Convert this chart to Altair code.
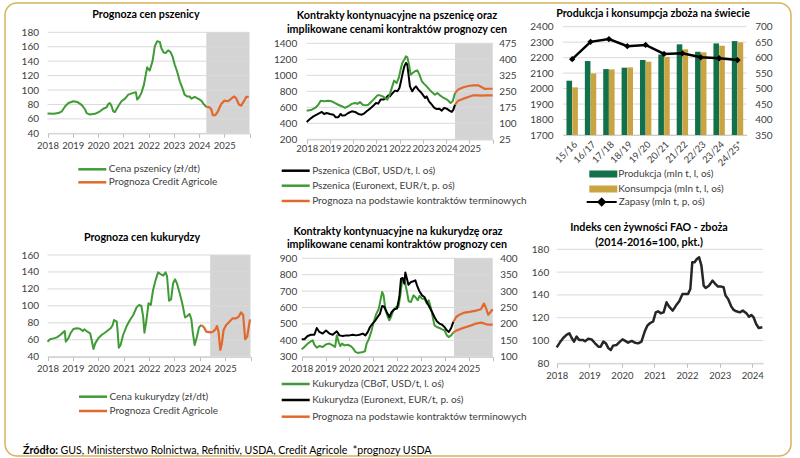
import altair as alt
import pandas as pd

# ---------------- data ----------------
year_ticks = [2018, 2019, 2020, 2021, 2022, 2023, 2024, 2025, 2026]
fao_ticks = [2018, 2019, 2020, 2021, 2022, 2023, 2024]

# Panel 1: wheat price forecast (zl/dt)
wheat_t = [2018.0, 2018.24, 2018.43, 2018.57, 2018.7, 2018.83, 2019.03, 2019.18, 2019.36, 2019.49, 2019.55, 2019.68,
           2019.88, 2020.08, 2020.21, 2020.34, 2020.41, 2020.47, 2020.54, 2020.6, 2020.67, 2020.8, 2020.93, 2021.07,
           2021.2, 2021.39, 2021.5, 2021.55, 2021.63, 2021.72, 2021.82, 2021.89, 2021.95, 2022.05, 2022.16, 2022.25,
           2022.34, 2022.45, 2022.51, 2022.6, 2022.68, 2022.78, 2022.87, 2022.95, 2023.04, 2023.13, 2023.24, 2023.34,
           2023.43, 2023.53, 2023.63, 2023.7, 2023.83, 2023.96, 2024.09, 2024.18, 2024.29]
wheat_v = [67.3, 67, 68, 70.5, 77.5, 82, 84.4, 83.5, 79, 73, 68, 66, 67, 70.5, 74, 76, 80.7, 82, 77.5, 70.5, 69.6,
           77.5, 84.4, 88, 93.6, 96, 97, 86.7, 90, 96, 107.5, 121, 131.5, 127, 140, 160.6, 167.5, 166.6, 158, 152,
           151.4, 155, 152.7, 146.7, 135, 126, 112, 103, 93.6, 91, 91, 88, 90.4, 88, 85.3, 80.7, 76.5]
wheat_fc_t = [2024.29, 2024.42, 2024.49, 2024.55, 2024.64, 2024.75, 2024.88, 2025.01, 2025.14, 2025.28, 2025.38,
              2025.47, 2025.58, 2025.67, 2025.76, 2025.87, 2025.97]
wheat_fc_v = [76.5, 76, 73, 65, 65, 70.5, 80.7, 85.3, 84.4, 88, 91, 88.8, 80, 78.4, 83.5, 90.4, 90.4]
wheat_shade = [2024.29, 2026]

# Panel 2: wheat continuous contracts
cbot_w_t = [2018.0, 2018.14, 2018.29, 2018.43, 2018.57, 2018.65, 2018.75, 2018.86, 2019.0, 2019.15, 2019.25, 2019.36,
            2019.46, 2019.53, 2019.65, 2019.79, 2019.94, 2020.08, 2020.22, 2020.37, 2020.48, 2020.58, 2020.72, 2020.84,
            2020.98, 2021.08, 2021.18, 2021.3, 2021.41, 2021.51, 2021.58, 2021.7, 2021.8, 2021.9, 2021.99, 2022.06,
            2022.13, 2022.2, 2022.27, 2022.33, 2022.37, 2022.44, 2022.54, 2022.63, 2022.7, 2022.8, 2022.9, 2022.99,
            2023.09, 2023.16, 2023.26, 2023.38, 2023.49, 2023.59, 2023.71, 2023.81, 2023.91, 2024.02, 2024.14,
            2024.24, 2024.31, 2024.38]
cbot_w_v = [417, 454, 487, 508, 529, 542, 517, 529, 517, 508, 475, 475, 517, 496, 500, 529, 550, 542, 517, 508, 525,
            550, 583, 612, 654, 646, 696, 696, 717, 750, 737, 779, 808, 800, 842, 933, 1029, 1112, 1154, 1133, 1029,
            862, 800, 842, 862, 821, 792, 758, 717, 737, 675, 633, 592, 579, 583, 558, 592, 583, 558, 542, 571, 633]
eur_w_t = [2018.0, 2018.22, 2018.36, 2018.5, 2018.6, 2018.75, 2018.93, 2019.08, 2019.22, 2019.36, 2019.51, 2019.65,
           2019.79, 2019.94, 2020.08, 2020.18, 2020.29, 2020.41, 2020.54, 2020.65, 2020.8, 2020.94, 2021.04, 2021.15,
           2021.27, 2021.37, 2021.47, 2021.56, 2021.66, 2021.76, 2021.87, 2021.96, 2022.04, 2022.11, 2022.2, 2022.27,
           2022.33, 2022.4, 2022.47, 2022.56, 2022.66, 2022.76, 2022.85, 2022.95, 2023.05, 2023.16, 2023.28, 2023.38,
           2023.52, 2023.62, 2023.73, 2023.85, 2023.96, 2024.09, 2024.19, 2024.28, 2024.38]
eur_w_v = [159, 164, 172, 187, 206, 203, 206, 203, 195, 187, 180, 172, 180, 191, 195, 191, 200, 187, 184, 187, 203,
           219, 231, 231, 226, 219, 211, 231, 266, 300, 289, 313, 352, 383, 399, 414, 409, 375, 328, 336, 344, 348,
           328, 297, 285, 273, 258, 247, 234, 242, 231, 222, 216, 206, 195, 203, 242]
fc_eur_w_t = [2024.38, 2024.52, 2024.74, 2024.95, 2025.17, 2025.38, 2025.53, 2025.67, 2025.81, 2026.0]
fc_eur_w_v = [242, 258, 269, 275, 278, 278, 269, 261, 262, 262]
fc_cbot_w_t = [2024.38, 2024.52, 2024.74, 2024.95, 2025.17, 2025.38, 2025.53, 2025.74, 2026.0]
fc_cbot_w_v = [633, 683, 708, 729, 750, 750, 746, 750, 750]
wheat_fut_shade = [2024.38, 2026]

# Panel 3: world grain production / consumption / stocks
seasons = ["15/16", "16/17", "17/18", "18/19", "19/20", "20/21", "21/22", "22/23", "23/24", "24/25*"]
production = [2051, 2178, 2126, 2135, 2185, 2220, 2286, 2238, 2292, 2307]
consumption = [2008, 2098, 2124, 2137, 2174, 2205, 2254, 2234, 2277, 2299]
stocks = [595, 651, 660, 637, 641, 612, 614, 601, 598, 592]

# Panel 4: corn price forecast (zl/dt)
corn_t = [2018.0, 2018.1, 2018.24, 2018.37, 2018.5, 2018.63, 2018.68, 2018.72, 2018.82, 2018.92, 2019.02, 2019.15,
          2019.28, 2019.39, 2019.45, 2019.57, 2019.68, 2019.74, 2019.81, 2019.88, 2020.0, 2020.13, 2020.26, 2020.4,
          2020.49, 2020.57, 2020.62, 2020.73, 2020.77, 2020.81, 2020.88, 2020.98, 2021.12, 2021.25, 2021.38, 2021.51,
          2021.61, 2021.7, 2021.77, 2021.82, 2021.9, 2021.98, 2022.07, 2022.16, 2022.27, 2022.36, 2022.45, 2022.56,
          2022.65, 2022.71, 2022.79, 2022.87, 2022.95, 2023.03, 2023.1, 2023.21, 2023.31, 2023.42, 2023.51, 2023.6,
          2023.67, 2023.73, 2023.8, 2023.89, 2023.97, 2024.06]
corn_v = [57.7, 60.5, 61.6, 62.8, 65.6, 69, 70.3, 57.7, 61.6, 68.3, 72.7, 73.5, 73, 70.3, 72.3, 69.5, 67.6, 59.7, 49,
          55.7, 61.6, 65.6, 68.3, 71.5, 73.5, 77.4, 83.3, 81.3, 67.6, 50.6, 53.8, 65.6, 76.2, 83.3, 89.2, 98.2, 101,
          99.8, 87.2, 68.3, 83.3, 103, 101, 118.7, 131.3, 139.5, 137.6, 135.6, 139.5, 135.2, 106, 107.7, 126.6, 131.3,
          126.6, 114.8, 103, 86.4, 88, 90.4, 84, 67.6, 53.8, 63.6, 74.6, 77.4]
corn_fc_t = [2024.06, 2024.17, 2024.26, 2024.41, 2024.52, 2024.62, 2024.68, 2024.74, 2024.81, 2024.87, 2024.94,
             2025.04, 2025.17, 2025.3, 2025.43, 2025.53, 2025.63, 2025.71, 2025.79, 2025.87, 2025.98]
corn_fc_v = [77.4, 74.6, 69.5, 68.7, 69.5, 72.3, 76.2, 69.5, 47.9, 55.7, 71.5, 77.4, 81.3, 85.3, 85.3, 87.2, 92.3,
             89.2, 60.5, 63.6, 84]
corn_shade = [2024.41, 2026]

# Panel 5: corn continuous contracts
cbot_c_t = [2018.0, 2018.11, 2018.25, 2018.39, 2018.46, 2018.53, 2018.63, 2018.74, 2018.88, 2019.02, 2019.16, 2019.3,
            2019.4, 2019.47, 2019.54, 2019.61, 2019.69, 2019.79, 2019.93, 2020.07, 2020.16, 2020.25, 2020.35, 2020.44,
            2020.56, 2020.65, 2020.72, 2020.81, 2020.91, 2021.0, 2021.11, 2021.23, 2021.3, 2021.37, 2021.43, 2021.51,
            2021.61, 2021.67, 2021.74, 2021.84, 2021.95, 2022.05, 2022.13, 2022.2, 2022.27, 2022.34, 2022.41, 2022.48,
            2022.58, 2022.68, 2022.76, 2022.86, 2022.93, 2023.04, 2023.14, 2023.24, 2023.32, 2023.42, 2023.49,
            2023.56, 2023.66, 2023.77, 2023.88, 2023.98, 2024.08, 2024.16, 2024.26, 2024.35]
cbot_c_v = [345, 359, 380, 394, 400, 373, 355, 365, 359, 375, 380, 369, 359, 430, 394, 365, 380, 369, 373, 363, 349,
            329, 323, 325, 329, 333, 380, 406, 451, 502, 556, 593, 644, 695, 674, 583, 542, 522, 542, 583, 603, 603,
            674, 756, 772, 745, 695, 638, 634, 674, 664, 644, 670, 654, 654, 624, 644, 593, 542, 491, 481, 475, 467,
            461, 430, 420, 430, 447]
eur_c_t = [2018.0, 2018.11, 2018.25, 2018.39, 2018.53, 2018.63, 2018.74, 2018.88, 2019.02, 2019.16, 2019.3, 2019.47,
           2019.58, 2019.72, 2019.86, 2020.0, 2020.14, 2020.28, 2020.42, 2020.56, 2020.67, 2020.77, 2020.86, 2020.97,
           2021.09, 2021.18, 2021.28, 2021.37, 2021.46, 2021.56, 2021.67, 2021.77, 2021.88, 2021.99, 2022.09, 2022.16,
           2022.23, 2022.3, 2022.34, 2022.4, 2022.47, 2022.58, 2022.68, 2022.76, 2022.83, 2022.93, 2023.04, 2023.14,
           2023.24, 2023.35, 2023.46, 2023.56, 2023.66, 2023.77, 2023.88, 2023.98, 2024.08, 2024.16, 2024.26, 2024.35]
eur_c_v = [153, 153, 163, 167, 167, 187.5, 175.5, 170.5, 179.5, 170.5, 167, 177.5, 165, 163, 165, 165, 167, 165, 167,
           170.5, 165, 175.5, 190.5, 201, 211, 221, 231.5, 254.5, 251.5, 236.5, 221, 236.5, 244.5, 246.5, 282, 338,
           340, 322.5, 356.5, 340, 319.5, 328, 330, 333, 317.5, 299.5, 287, 282, 267, 251.5, 236.5, 221, 208, 201,
           197.5, 190.5, 180.5, 175.5, 187.5, 206]
fc_eur_c_t = [2024.35, 2024.47, 2024.61, 2024.82, 2025.03, 2025.3, 2025.51, 2025.63, 2025.72, 2025.81, 2025.91, 2026.0]
fc_eur_c_v = [206, 221, 228, 234.5, 236.5, 240.5, 244.5, 262, 248.5, 228, 236.5, 244.5]
fc_cbot_c_t = [2024.35, 2024.47, 2024.68, 2024.89, 2025.1, 2025.3, 2025.51, 2025.65, 2025.79, 2026.0]
fc_cbot_c_v = [447, 459, 471, 481, 491, 502, 508, 502, 495, 495]
corn_fut_shade = [2024.38, 2026]

# Panel 6: FAO cereal price index
fao_t = [2018.0, 2018.1, 2018.2, 2018.31, 2018.39, 2018.46, 2018.53, 2018.61, 2018.69, 2018.8, 2018.87, 2018.97,
         2019.07, 2019.17, 2019.28, 2019.35, 2019.43, 2019.51, 2019.58, 2019.66, 2019.73, 2019.84, 2019.94, 2020.02,
         2020.09, 2020.19, 2020.3, 2020.4, 2020.5, 2020.6, 2020.7, 2020.78, 2020.86, 2020.96, 2021.04, 2021.11,
         2021.19, 2021.28, 2021.37, 2021.45, 2021.56, 2021.66, 2021.76, 2021.86, 2021.93, 2022.03, 2022.1, 2022.16,
         2022.23, 2022.3, 2022.37, 2022.44, 2022.51, 2022.57, 2022.67, 2022.78, 2022.85, 2022.95, 2023.05, 2023.12,
         2023.18, 2023.26, 2023.36, 2023.43, 2023.51, 2023.62, 2023.71, 2023.82, 2023.9, 2023.97, 2024.04, 2024.12,
         2024.2, 2024.31]
fao_v = [94, 98.4, 102.2, 105.1, 106.3, 102.2, 99, 103.4, 100.5, 100.5, 99.3, 101.6, 101, 97.8, 94.6, 94.6, 99, 97.5,
         93.5, 91.7, 95.5, 96.1, 99, 101, 99.9, 98.1, 99.6, 98.1, 97.5, 99, 107.8, 113, 115.1, 116.8, 124.7, 125.6,
         123.9, 124.7, 133.5, 129.7, 126.2, 130.6, 134.4, 140.8, 140.8, 140.8, 145.2, 168.6, 168.6, 171.5, 173, 165.7,
         148.1, 146.1, 148.1, 152.5, 150.2, 147.3, 147.3, 146.7, 139.4, 136.4, 129.7, 126.8, 125.6, 124.7, 126.2,
         123.9, 120.9, 122.4, 120.4, 114.5, 111, 111.6]

# ---------------- style ----------------
W, H = 800, 458
FONT = "Lato"
GREEN = "#3f9b35"
ORANGE = "#e2692d"
BLACK = "#000000"
DGREEN = "#12704a"
GOLD = "#c9a443"
SHADE = "#d4d4d4"
GRID = "#d9d9d9"
AXC = "#bfbfbf"
TXT = "#404040"
BORDER = "#d8b25e"
TITLE_SIZE = 10.7

# panel geometry (plot area in pixels)
P1 = dict(x0=47.5, x1=249.5, yb=133.3, yt=32.3)
P2 = dict(x0=306.7, x1=492.7, yb=139.3, yt=43.3)
P3 = dict(x0=563.0, x1=746.7, yb=135.0, yt=26.7)
P4 = dict(x0=47.5, x1=250.5, yb=356.7, yt=255.0)
P5 = dict(x0=301.7, x1=492.7, yb=356.7, yt=258.3)
P6 = dict(x0=556.7, x1=763.0, yb=363.3, yt=249.3)

LAB = dict(labelFont=FONT, labelColor=TXT, title=None, labelFlush=False, labelOverlap=False, labelBound=False)


def xs(P, dom):
    return alt.Scale(domain=dom, range=[P["x0"], P["x1"]], nice=False, zero=False)


def ys(P, dom):
    return alt.Scale(domain=dom, range=[P["yb"], P["yt"]], nice=False, zero=False)


def ax_left(P, vals, pad):
    return alt.Axis(orient="left", offset=-P["x0"], values=vals, grid=False, domain=False, ticks=False,
                    labelPadding=pad, format="d", labelFontSize=10, **LAB)


def ax_right(P, vals, pad):
    return alt.Axis(orient="right", offset=P["x1"] - W, values=vals, grid=False, domain=False, ticks=False,
                    labelPadding=pad, format="d", labelFontSize=10, **LAB)


def ax_bottom(P, vals, pad, hide_after=None):
    kw = dict(orient="bottom", offset=P["yb"] - H, values=vals, grid=False, domain=True, domainColor=AXC,
              ticks=True, tickColor=AXC, tickSize=4, labelPadding=pad, format="d", labelFontSize=9.5)
    if hide_after is not None:
        kw["labelExpr"] = "datum.value >= %d ? '' : datum.label" % hide_after
    return alt.Axis(**kw, **LAB)


def legend_line(sym_left, cy):
    # stroke symbol 28 px long
    return alt.Legend(orient="none", legendX=sym_left - 1.5, legendY=cy - 15.5, title=None, symbolType="stroke",
                      symbolSize=784, symbolStrokeWidth=2.5, labelFont=FONT, labelFontSize=10, labelColor=TXT,
                      labelOffset=1, padding=0, labelLimit=400)


def legend_custom(sym_left, cy, path, size, sw, half, fill=None):
    kw = dict(orient="none", legendX=sym_left, legendY=cy - half, title=None, symbolType=path, symbolSize=size,
              symbolStrokeWidth=sw, labelFont=FONT, labelFontSize=10, labelColor=TXT, labelOffset=1, padding=0,
              labelLimit=400)
    if fill:
        kw["symbolFillColor"] = fill
    return alt.Legend(**kw)


def line(t, v, xsc, ysc, color, label=None, leg=None, width=2.0, xaxis=None, yaxis=None):
    df = pd.DataFrame({"t": t, "v": v, "s": [label or ""] * len(t)})
    enc = dict(x=alt.X("t:Q", scale=xsc, axis=xaxis), y=alt.Y("v:Q", scale=ysc, axis=yaxis))
    if label:
        enc["color"] = alt.Color("s:N", scale=alt.Scale(domain=[label], range=[color]), legend=leg)
    return alt.Chart(df).mark_line(color=color, strokeWidth=width, strokeJoin="round").encode(**enc)


def shade(span, ydom, xsc, ysc):
    df = pd.DataFrame({"a": [span[0]], "b": [span[1]], "lo": [ydom[0]], "hi": [ydom[1]]})
    return alt.Chart(df).mark_rect(color=SHADE).encode(
        x=alt.X("a:Q", scale=xsc, axis=None), x2="b:Q",
        y=alt.Y("lo:Q", scale=ysc, axis=None), y2="hi:Q")


def grid(P, vals, ysc, yaxis):
    df = pd.DataFrame({"g": vals})
    return alt.Chart(df).mark_rule(color=GRID, strokeWidth=1).encode(
        y=alt.Y("g:Q", scale=ysc, axis=yaxis), x=alt.value(P["x0"]), x2=alt.value(P["x1"]))


def text(s, x, y, size=TITLE_SIZE, bold=True, align="center", color="#000000"):
    df = pd.DataFrame({"s": [s]})
    return alt.Chart(df).mark_text(align=align, baseline="middle", font=FONT, fontSize=size,
                                   fontWeight="bold" if bold else "normal", color=color).encode(
        x=alt.value(x), y=alt.value(y), text="s:N")


units = []

# border
units.append(alt.Chart(pd.DataFrame({"a": [0]})).mark_rect(cornerRadius=12, fillOpacity=0, stroke=BORDER,
                                                           strokeWidth=1.5).encode(
    x=alt.value(5), x2=alt.value(791), y=alt.value(3), y2=alt.value(456)))

# ---- Panel 1
d1x, d1y = [2018, 2026], [40, 180]
x1s, y1s = xs(P1, d1x), ys(P1, d1y)
t1 = [40, 60, 80, 100, 120, 140, 160, 180]
units.append(shade(wheat_shade, d1y, x1s, y1s))
units.append(grid(P1, t1, y1s, ax_left(P1, t1, 9)))
units.append(line(wheat_t, wheat_v, x1s, y1s, GREEN, "Cena pszenicy (zł/dt)", legend_line(78.3, 169.3),
                  xaxis=ax_bottom(P1, year_ticks, 3, 2026)))
units.append(line(wheat_fc_t, wheat_fc_v, x1s, y1s, ORANGE, "Prognoza Credit Agricole", legend_line(78.3, 182.3),
                  width=2.2))
units.append(text("Prognoza cen pszenicy", 146, 15))

# ---- Panel 2
d2x, d2l, d2r = [2018, 2026], [200, 1400], [25, 475]
x2s, y2l, y2r = xs(P2, d2x), ys(P2, d2l), ys(P2, d2r)
t2l = [200, 400, 600, 800, 1000, 1200, 1400]
t2r = [25, 100, 175, 250, 325, 400, 475]
units.append(shade(wheat_fut_shade, d2l, x2s, y2l))
units.append(grid(P2, t2l, y2l, ax_left(P2, t2l, 10)))
units.append(line(cbot_w_t, cbot_w_v, x2s, y2l, BLACK, "Pszenica (CBoT, USD/t, l. oś)", legend_line(281.7, 170.7),
                  xaxis=ax_bottom(P2, year_ticks, 0, 2026)))
units.append(line(eur_w_t, eur_w_v, x2s, y2r, GREEN, "Pszenica (Euronext, EUR/t, p. oś)",
                  legend_line(281.7, 185.7), yaxis=ax_right(P2, t2r, 6)))
units.append(line(fc_eur_w_t, fc_eur_w_v, x2s, y2r, ORANGE, "Prognoza na podstawie kontraktów terminowych",
                  legend_line(281.7, 201), width=2.2))
units.append(line(fc_cbot_w_t, fc_cbot_w_v, x2s, y2l, ORANGE, width=2.2))
units.append(text("Kontrakty kontynuacyjne na pszenicę oraz", 397, 16))
units.append(text("implikowane cenami kontraktów prognozy cen", 397, 29.5))

# ---- Panel 3
d3l, d3r = [1700, 2400], [350, 700]
x3s = alt.Scale(type="band", domain=seasons, range=[P3["x0"], P3["x1"]], paddingInner=0, paddingOuter=0)
y3l, y3r = ys(P3, d3l), ys(P3, d3r)
t3l = [1700, 1800, 1900, 2000, 2100, 2200, 2300, 2400]
t3r = [350, 400, 450, 500, 550, 600, 650, 700]
units.append(grid(P3, t3l, y3l, ax_left(P3, t3l, 10)))
bar_path = "M-1,-0.25H1V0.25H-1Z"
stock_path = "M-1,0H1M0,-0.22L0.22,0L0,0.22L-0.22,0Z"
df_p = pd.DataFrame({"season": seasons, "v": production, "s": "Produkcja (mln t, l, oś)"})
units.append(alt.Chart(df_p).mark_bar(width=5.6, xOffset=-2.9).encode(
    x=alt.X("season:N", scale=x3s, sort=seasons,
            axis=alt.Axis(orient="bottom", offset=P3["yb"] - H, labelAngle=-45, domain=True, domainColor=AXC,
                          ticks=False, grid=False, labelPadding=4, labelFontSize=9.5, **LAB)),
    y=alt.Y("v:Q", scale=y3l, axis=None), y2=alt.datum(1700),
    color=alt.Color("s:N", scale=alt.Scale(domain=["Produkcja (mln t, l, oś)"], range=[DGREEN]),
                    legend=legend_custom(589.3, 174, bar_path, 784, 0, 14))))
df_c = pd.DataFrame({"season": seasons, "v": consumption, "s": "Konsumpcja (mln t, l, oś)"})
units.append(alt.Chart(df_c).mark_bar(width=5.6, xOffset=2.9).encode(
    x=alt.X("season:N", scale=x3s, sort=seasons, axis=None),
    y=alt.Y("v:Q", scale=y3l, axis=None), y2=alt.datum(1700),
    color=alt.Color("s:N", scale=alt.Scale(domain=["Konsumpcja (mln t, l, oś)"], range=[GOLD]),
                    legend=legend_custom(589.3, 189, bar_path, 784, 0, 14))))
df_s = pd.DataFrame({"season": seasons, "v": stocks, "s": "Zapasy (mln t, p, oś)"})
units.append(alt.Chart(df_s).mark_line(strokeWidth=2.5,
                                       point=alt.OverlayMarkDef(shape="diamond", size=40, filled=True)).encode(
    x=alt.X("season:N", scale=x3s, sort=seasons, axis=None),
    y=alt.Y("v:Q", scale=y3r, axis=ax_right(P3, t3r, 8)),
    color=alt.Color("s:N", scale=alt.Scale(domain=["Zapasy (mln t, p, oś)"], range=[BLACK]),
                    legend=legend_custom(585.7, 202, stock_path, 900, 2, 16, fill=BLACK))))
units.append(text("Produkcja i konsumpcja zboża na świecie", 653, 14))

# ---- Panel 4
d4x, d4y = [2018, 2026], [40, 160]
x4s, y4s = xs(P4, d4x), ys(P4, d4y)
t4 = [40, 60, 80, 100, 120, 140, 160]
units.append(shade(corn_shade, d4y, x4s, y4s))
units.append(grid(P4, t4, y4s, ax_left(P4, t4, 9)))
units.append(line(corn_t, corn_v, x4s, y4s, GREEN, "Cena kukurydzy (zł/dt)", legend_line(79, 396.7),
                  xaxis=ax_bottom(P4, year_ticks, 3, 2026)))
units.append(line(corn_fc_t, corn_fc_v, x4s, y4s, ORANGE, "Prognoza Credit Agricole", legend_line(79, 411),
                  width=2.2))
units.append(text("Prognoza cen kukurydzy", 142, 237.5))

# ---- Panel 5
d5x, d5l, d5r = [2018, 2026], [300, 900], [100, 400]
x5s, y5l, y5r = xs(P5, d5x), ys(P5, d5l), ys(P5, d5r)
t5l = [300, 400, 500, 600, 700, 800, 900]
t5r = [100, 150, 200, 250, 300, 350, 400]
units.append(shade(corn_fut_shade, d5l, x5s, y5l))
units.append(grid(P5, t5l, y5l, ax_left(P5, t5l, 5)))
units.append(line(cbot_c_t, cbot_c_v, x5s, y5l, GREEN, "Kukurydza (CBoT, USD/t, l. oś)", legend_line(281.7, 384),
                  xaxis=ax_bottom(P5, year_ticks, 3, 2026)))
units.append(line(eur_c_t, eur_c_v, x5s, y5r, BLACK, "Kukurydza (Euronext, EUR/t, p. oś)",
                  legend_line(281.7, 400), yaxis=ax_right(P5, t5r, 7)))
units.append(line(fc_eur_c_t, fc_eur_c_v, x5s, y5r, ORANGE, "Prognoza na podstawie kontraktów terminowych",
                  legend_line(281.7, 416.7), width=2.2))
units.append(line(fc_cbot_c_t, fc_cbot_c_v, x5s, y5l, ORANGE, width=2.2))
units.append(text("Kontrakty kontynuacyjne na kukurydzę oraz", 398, 231.7))
units.append(text("implikowane cenami kontraktów prognozy cen", 397, 245))

# ---- Panel 6
d6x, d6y = [2018, 2024.33], [80, 180]
x6s, y6s = xs(P6, d6x), ys(P6, d6y)
t6 = [80, 100, 120, 140, 160, 180]
units.append(grid(P6, t6, y6s, ax_left(P6, t6, 8)))
units.append(line(fao_t, fao_v, x6s, y6s, "#262626", width=2.5, xaxis=ax_bottom(P6, fao_ticks, 3)))
units.append(text("Indeks cen żywności FAO - zboża", 649, 227.5))
units.append(text("(2014-2016=100, pkt.)", 649, 242.5))

# ---- footer
units.append(text("Źródło:", 23, 450.5, size=10.8, align="left"))
units.append(text("GUS, Ministerstwo Rolnictwa, Refinitiv, USDA, Credit Agricole\u00a0 *prognozy USDA", 60.5, 450.5,
                  size=10.6, bold=False, align="left"))

chart = alt.layer(*units).resolve_scale(
    x="independent", y="independent", color="independent"
).properties(
    width=W, height=H, padding=0, autosize=alt.AutoSizeParams(type="none"), background="white"
).configure_view(stroke=None)

chart.save("out.html", embed_options={"renderer": "svg", "actions": False})
